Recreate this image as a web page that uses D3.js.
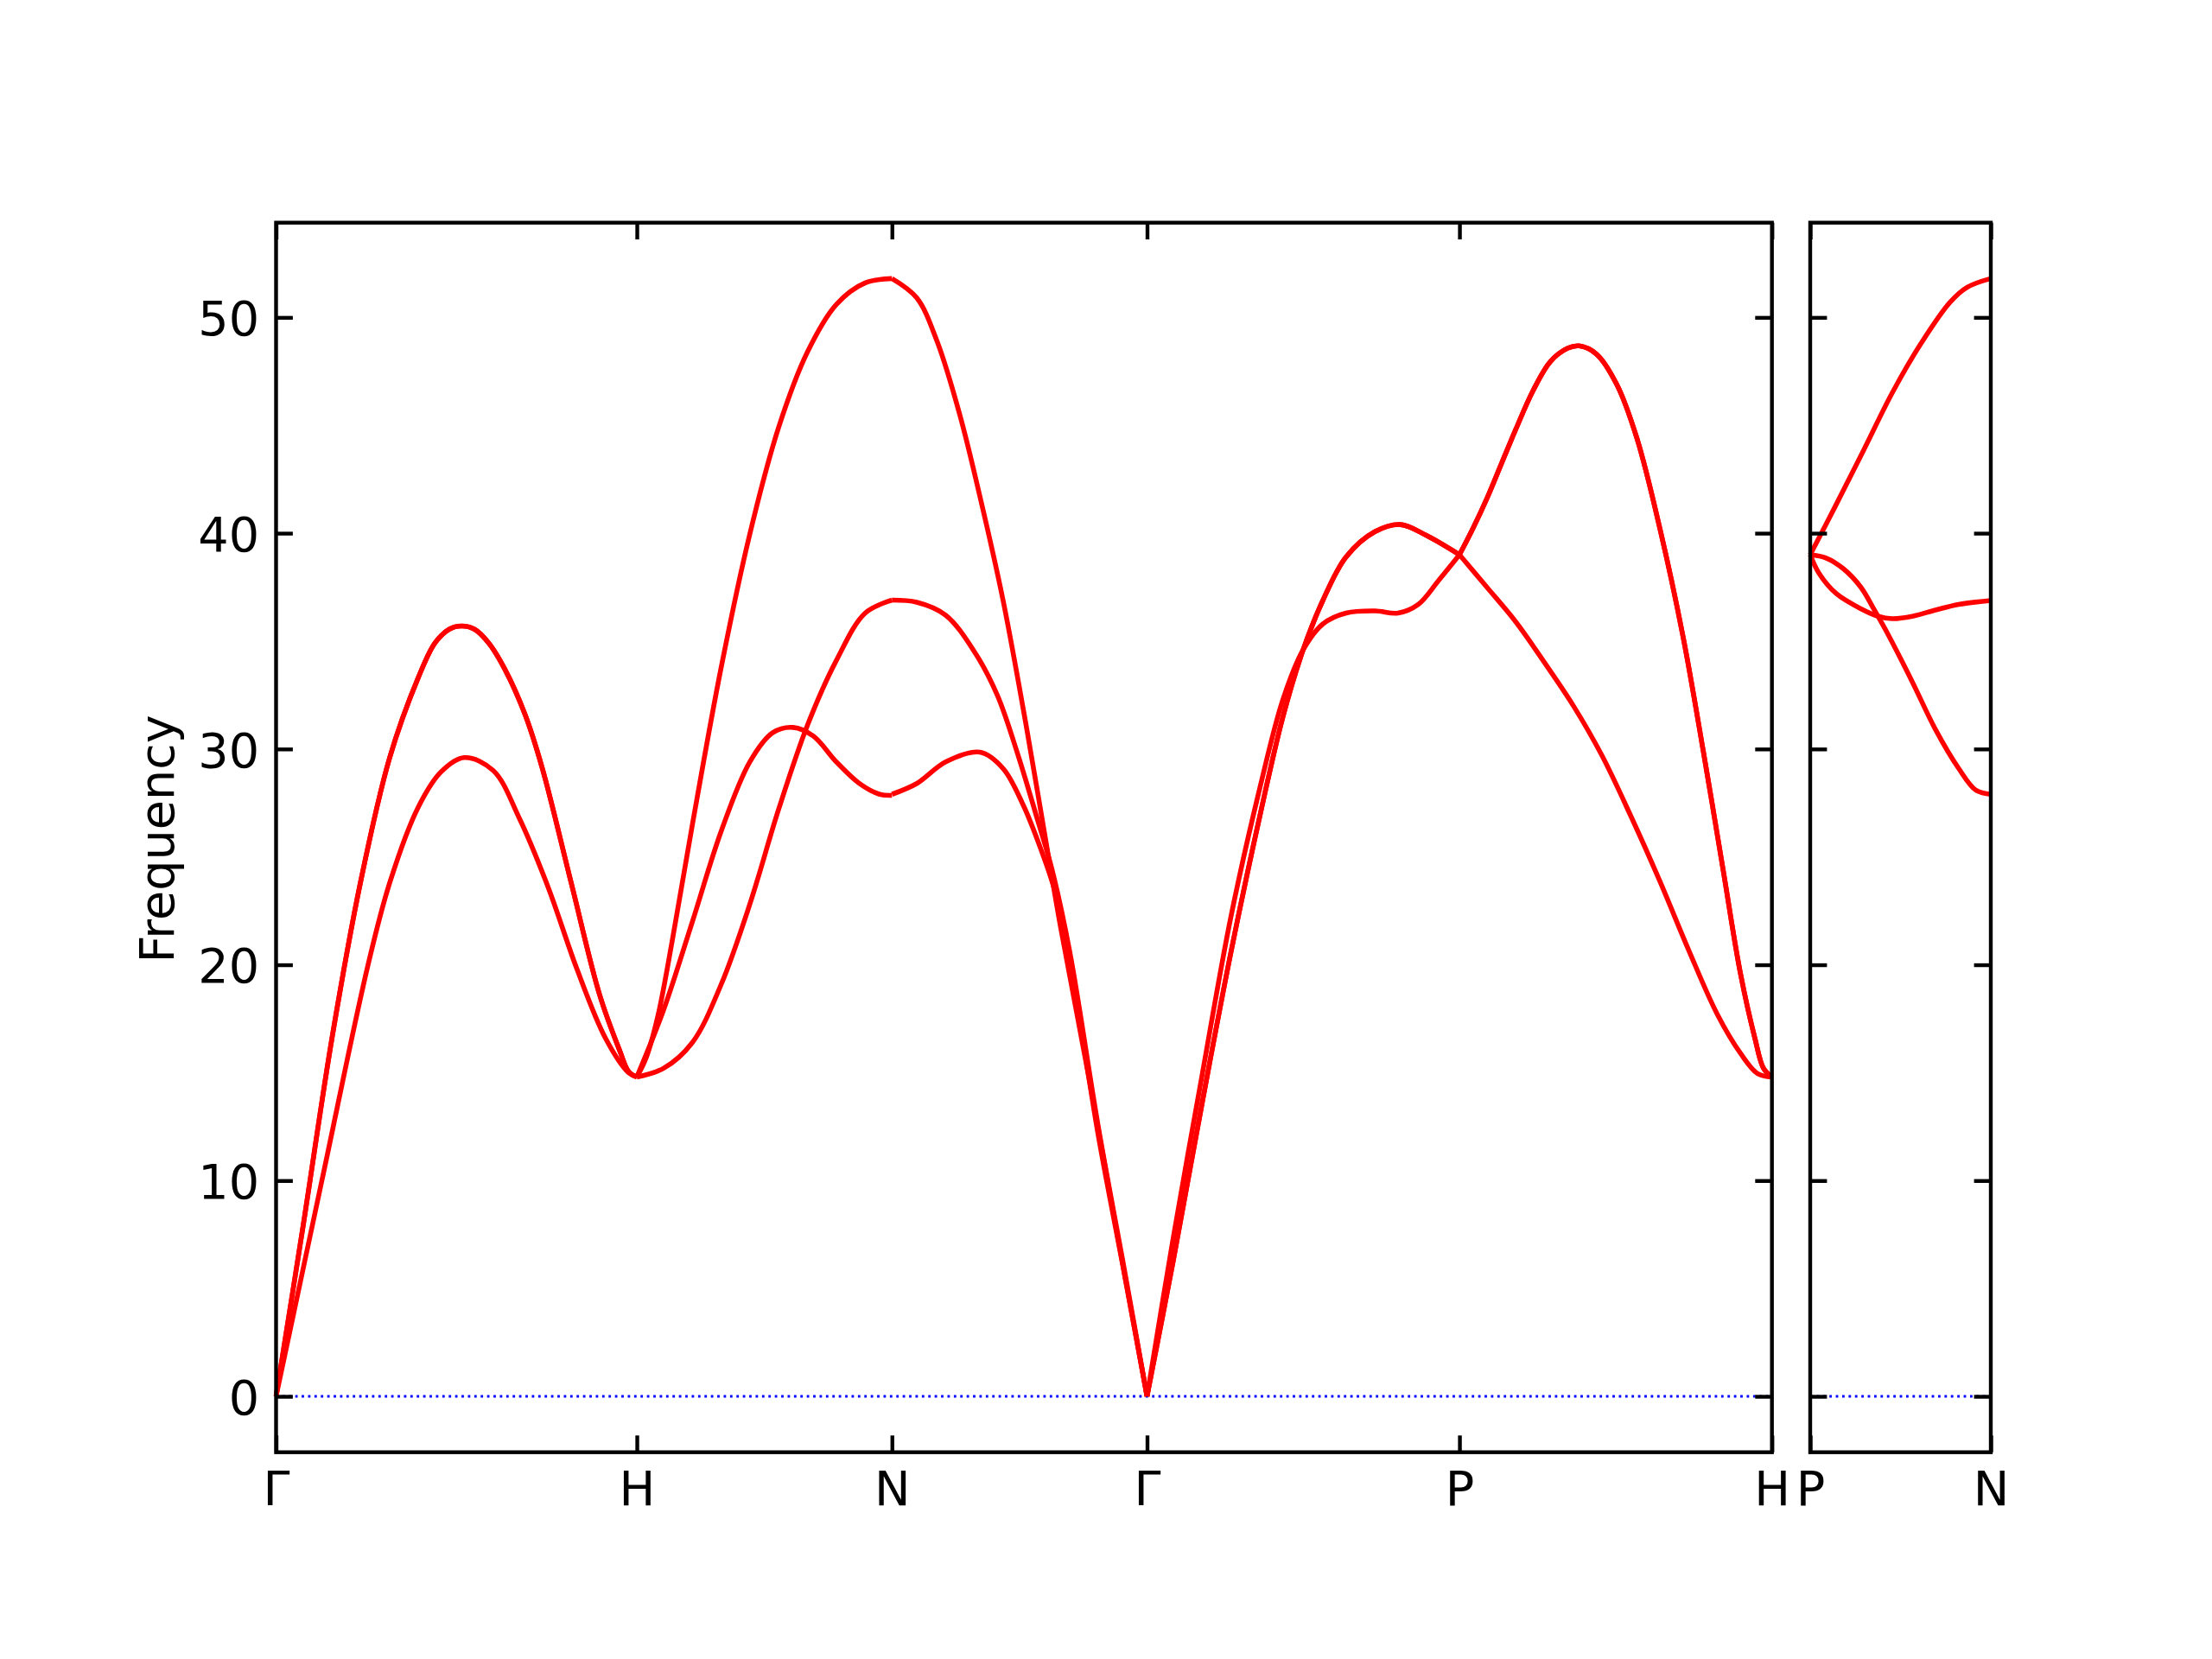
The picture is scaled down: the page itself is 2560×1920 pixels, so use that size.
<!DOCTYPE html>
<html><head><meta charset="utf-8">
<script src="https://cdn.jsdelivr.net/npm/d3@7"></script>
<style>body{margin:0;background:#fff} svg{display:block}</style>
</head><body>
<script>
// ---------- data ----------
const mainTickLabels = ["Γ","H","N","Γ","P","H"];
const mainTickPositions = [0, 1.0, 1.7071, 2.4142, 3.2802, 4.1463];
const sideTickLabels = ["P","N"];
const sideTickPositions = [0, 0.5];
const yTickValues = [0, 10, 20, 30, 40, 50];
const yLimits = [-2.59, 54.39];
const yLabel = "Frequency";

// Γ–H
const gammaH_upper = [[0,0],[0.075,7.9],[0.155,16.6],[0.235,23.9],[0.315,29.6],[0.394,33.3],[0.44,34.9],[0.48,35.55],[0.514,35.7],[0.55,35.55],[0.59,34.9],[0.634,33.7],[0.69,31.6],[0.738,29.1],[0.818,23.8],[0.897,18.6],[0.953,16.0],[0.977,15.06],[1.0,14.8]];
const gammaH_lower = [[0,0],[0.127,10.0],[0.255,20.0],[0.315,23.8],[0.394,27.3],[0.458,28.95],[0.522,29.6],[0.602,29.0],[0.674,26.8],[0.754,23.6],[0.834,19.8],[0.913,16.6],[0.977,15.0],[1.0,14.8]];
// H–N
const hN_top = [[1.0,14.8],[1.026,15.7],[1.058,17.6],[1.098,21.1],[1.154,26.5],[1.234,33.8],[1.313,39.95],[1.393,44.9],[1.473,48.4],[1.553,50.6],[1.633,51.6],[1.7071,51.8]];
const hN_middle = [[1.0,14.8],[1.074,15.2],[1.154,16.4],[1.234,19.1],[1.313,22.8],[1.393,27.2],[1.473,31.1],[1.553,34.1],[1.633,36.3],[1.7071,36.9]];
const hN_bump = [[1.0,14.8],[1.074,17.9],[1.154,22.0],[1.234,26.2],[1.313,29.4],[1.377,30.76],[1.433,31.0],[1.489,30.6],[1.553,29.4],[1.617,28.4],[1.673,27.9],[1.7071,27.85]];
// N–Γ
const nG_top = [[1.7071,51.8],[1.776,50.9],[1.832,48.9],[1.895,45.5],[1.951,41.7],[2.015,36.9],[2.079,31.1],[2.127,26.4],[2.175,21.7],[2.255,14.6],[2.335,7.2],[2.4142,0]];
const nG_middle = [[1.7071,36.9],[1.776,36.8],[1.856,36.2],[1.936,34.5],[1.999,32.5],[2.055,29.8],[2.111,26.7],[2.151,24.4],[2.2,20.6],[2.28,12.4],[2.35,6.0],[2.4142,0]];
const nG_bump = [[1.7071,27.9],[1.776,28.4],[1.856,29.4],[1.951,29.85],[2.015,29.1],[2.071,27.4],[2.119,25.4],[2.159,23.4],[2.2,20.2],[2.28,12.0],[2.35,5.8],[2.4142,0]];
// Γ–P
const gP_flat = [[2.4142,0],[2.487,7.36],[2.567,14.9],[2.647,22.25],[2.727,28.2],[2.791,32.3],[2.847,34.6],[2.902,35.8],[2.966,36.3],[3.046,36.4],[3.11,36.3],[3.166,36.7],[3.222,37.8],[3.2802,39.0]];
const gP_hump = [[2.4142,0],[2.487,6.3],[2.567,13.6],[2.647,20.6],[2.727,26.9],[2.791,31.5],[2.847,34.6],[2.902,36.9],[2.966,38.9],[3.046,40.07],[3.117,40.4],[3.188,39.9],[3.2802,39.0]];
// P–H
const pH_upper = [[3.2802,39.0],[3.317,40.2],[3.356,41.6],[3.396,43.2],[3.436,44.8],[3.484,46.6],[3.532,47.95],[3.58,48.57],[3.612,48.68],[3.66,48.3],[3.716,46.9],[3.772,44.4],[3.836,40.2],[3.9,35.2],[3.956,29.9],[4.011,24.4],[4.059,19.6],[4.099,16.6],[4.123,15.2],[4.1463,14.8]];
const pH_lower = [[3.2802,39.0],[3.356,37.5],[3.436,35.9],[3.516,34.0],[3.596,32.0],[3.675,29.7],[3.755,26.9],[3.835,23.9],[3.915,20.7],[3.995,17.7],[4.059,15.9],[4.107,14.95],[4.1463,14.8]];
// P–N (second panel)
const pN_top = [[0,39.0],[0.068,41.2],[0.148,43.85],[0.227,46.5],[0.307,48.8],[0.387,50.7],[0.435,51.4],[0.5,51.8]];
const pN_a = [[0,39.0],[0.044,38.85],[0.092,38.35],[0.14,37.5],[0.179,36.4],[0.219,35.2],[0.283,33.1],[0.347,30.9],[0.411,29.1],[0.458,28.1],[0.5,27.9]];
const pN_b = [[0,39.0],[0.024,38.15],[0.072,37.2],[0.14,36.5],[0.188,36.15],[0.227,36.04],[0.283,36.15],[0.347,36.44],[0.411,36.7],[0.5,36.88]];

const mainBands = [gammaH_upper, gammaH_upper, gammaH_lower,
                   hN_top, hN_middle, hN_bump,
                   nG_top, nG_middle, nG_bump,
                   gP_flat, gP_hump, gP_hump,
                   pH_upper, pH_upper, pH_lower];
const sideBands = [pN_top, pN_a, pN_b];

// ---------- layout ----------
const W = 2560, H = 1920;
const axTop = 257.7, axBottom = 1680.7;
const mainL = 319.5, mainR = 2050.7, sideL = 2095, sideR = 2304;
const FS = 55.6, LW = 4.4, TL = 19.4;
const font = "'DejaVu Sans', sans-serif";

const svg = d3.select("body").append("svg").attr("width", W).attr("height", H)
  .style("font-family", font);
svg.append("rect").attr("width", W).attr("height", H).attr("fill", "#fff");

const y = d3.scaleLinear().domain(yLimits).range([axBottom, axTop]);
const xMain = d3.scaleLinear().domain([mainTickPositions[0], mainTickPositions[mainTickPositions.length-1]]).range([mainL, mainR]);
const xSide = d3.scaleLinear().domain([sideTickPositions[0], sideTickPositions[1]]).range([sideL, sideR]);

function panel(x, bands, tickPos, tickLab, showY) {
  const g = svg.append("g");
  const [x0, x1] = x.range();
  g.append("line").attr("x1", x0).attr("x2", x1).attr("y1", y(0)).attr("y2", y(0))
    .attr("stroke", "#0000ff").attr("stroke-width", 2.8).attr("stroke-dasharray", "2.8 4.6");
  const line = d3.line().x(d => x(d[0])).y(d => y(d[1])).curve(d3.curveCatmullRom.alpha(0.5));
  g.selectAll("path.band").data(bands).join("path").attr("class", "band")
    .attr("d", line).attr("fill", "none").attr("stroke", "#ff0000")
    .attr("stroke-width", 5.6).attr("stroke-linejoin", "round").attr("stroke-linecap", "butt");

  const styleAxis = a => {
    a.select(".domain").remove();
    a.selectAll(".tick line").attr("stroke", "#000").attr("stroke-width", LW);
    a.selectAll(".tick text").attr("fill", "#000").style("font-size", FS + "px").style("font-family", font);
  };
  const la = g.append("g").attr("transform", `translate(${x0},0)`)
    .call(d3.axisLeft(y).tickValues(yTickValues).tickSize(-TL).tickPadding(19.4)
      .tickFormat(showY ? d3.format("d") : ""));
  styleAxis(la);
  la.selectAll(".tick text").attr("dy", "0.365em");
  const ra = g.append("g").attr("transform", `translate(${x1},0)`)
    .call(d3.axisRight(y).tickValues(yTickValues).tickSize(-TL).tickFormat(""));
  styleAxis(ra);
  const ba = g.append("g").attr("transform", `translate(0,${axBottom})`)
    .call(d3.axisBottom(x).tickValues(tickPos).tickSize(-TL).tickPadding(21.5)
      .tickFormat((d, i) => tickLab[i]));
  styleAxis(ba);
  const ta = g.append("g").attr("transform", `translate(0,${axTop})`)
    .call(d3.axisTop(x).tickValues(tickPos).tickSize(-TL).tickFormat(""));
  styleAxis(ta);
  g.append("rect").attr("x", x0).attr("y", axTop).attr("width", x1 - x0).attr("height", axBottom - axTop)
    .attr("fill", "none").attr("stroke", "#000").attr("stroke-width", LW);
}

panel(xMain, mainBands, mainTickPositions, mainTickLabels, true);
panel(xSide, sideBands, sideTickPositions, sideTickLabels, false);

svg.append("text").attr("transform", `translate(200.5,971) rotate(-90)`)
  .attr("text-anchor", "middle").style("font-size", FS + "px").attr("fill", "#000")
  .text(yLabel);
</script>
</body></html>
